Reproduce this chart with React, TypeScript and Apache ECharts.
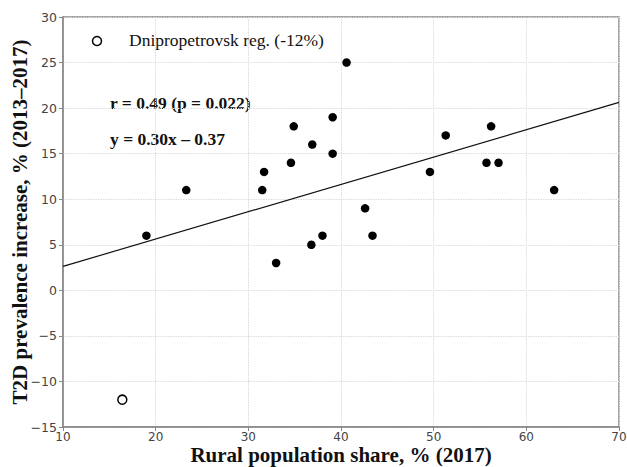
import React, { useEffect, useRef } from "react";
import * as echarts from "echarts";

const ruralShare = [19, 23.3, 31.5, 31.7, 34.6, 34.9, 36.9, 36.8, 33, 38, 39.1, 39.1, 40.6, 42.6, 43.4, 49.6, 51.3, 55.7, 56.2, 57, 63];
const prevalenceIncrease = [6, 11, 11, 13, 14, 18, 16, 5, 3, 6, 19, 15, 25, 9, 6, 13, 17, 14, 18, 14, 11];
const outlierX = [16.4];
const outlierY = [-12];
const outlierName = "Dnipropetrovsk reg. (-12%)";
const fitSlope = 0.3;
const fitIntercept = -0.37;
const fitRange = [10, 70];

export default function App() {
  const ref = useRef<HTMLDivElement>(null);
  useEffect(() => {
    if (!ref.current) return;
    const chart = echarts.init(ref.current, undefined, { renderer: "svg" });
    const serif = "Liberation Serif";
    const sans = "DejaVu Sans";
    const axisLine = { show: true, onZero: false, lineStyle: { color: "#888", width: 1.5 } };
    const splitLine = { show: true, lineStyle: { color: "#dcdcdc", type: [1.5, 1] as any, width: 1 } };
    chart.setOption({
      animation: false,
      backgroundColor: "#fff",
      grid: {
        left: 63, right: 8, top: 17, bottom: 40,
        show: true, borderColor: "#888", borderWidth: 1.5,
        containLabel: false, outerBoundsMode: "none",
      } as any,
      xAxis: {
        type: "value",
        min: 10,
        max: 70,
        interval: 10,
        name: "Rural population share, % (2017)",
        nameLocation: "middle",
        nameGap: 18,
        nameMoveOverlap: false,
        nameTextStyle: { fontFamily: serif, fontSize: 21, fontWeight: "bold", color: "#111", lineHeight: 20 },
        axisLine,
        axisTick: { show: true, length: 4, lineStyle: { color: "#888" } },
        axisLabel: { fontFamily: sans, fontSize: 12, color: "#444", margin: 3, lineHeight: 13 },
        splitLine,
      } as any,
      yAxis: {
        type: "value",
        min: -15,
        max: 30,
        interval: 5,
        name: "T2D prevalence increase, % (2013–2017)",
        nameLocation: "middle",
        nameGap: 33,
        nameMoveOverlap: false,
        nameTextStyle: { fontFamily: serif, fontSize: 21, fontWeight: "bold", color: "#111", lineHeight: 21 },
        axisLine,
        axisTick: { show: true, length: 4, lineStyle: { color: "#888" } },
        axisLabel: {
          fontFamily: sans,
          fontSize: 12.5,
          color: "#444",
          margin: 6,
          formatter: (v: number) => (v < 0 ? "\u2212" + Math.abs(v) : String(v)),
        },
        splitLine,
      } as any,
      graphic: [
        { type: "circle", shape: { cx: 97, cy: 41, r: 4.5 }, style: { fill: "#fff", stroke: "#000", lineWidth: 1.5 } },
        { type: "text", left: 129, top: 31, style: { text: outlierName, font: `17.5px "${serif}"`, fill: "#111" } },
        { type: "text", left: 110, top: 94, style: { text: "r = 0.49 (p = 0.022)", font: `bold 17.5px "${serif}"`, fill: "#111" } },
        { type: "text", left: 110, top: 130, style: { text: "y = 0.30x \u2013 0.37", font: `bold 17.5px "${serif}"`, fill: "#111" } },
      ],
      series: [
        {
          type: "line",
          data: fitRange.map((x) => [x, fitSlope * x + fitIntercept]),
          showSymbol: false,
          lineStyle: { color: "#111", width: 1.2 },
          silent: true,
          z: 1,
        },
        {
          type: "scatter",
          data: ruralShare.map((x, i) => [x, prevalenceIncrease[i]]),
          symbolSize: 8.5,
          itemStyle: { color: "#000", opacity: 1 },
          z: 3,
        },
        {
          name: outlierName,
          type: "scatter",
          data: outlierX.map((x, i) => [x, outlierY[i]]),
          symbolSize: 9,
          itemStyle: { color: "#fff", borderColor: "#000", borderWidth: 1.5, opacity: 1 },
          z: 3,
        },
      ],
    });
    return () => chart.dispose();
  }, []);
  return <div ref={ref} style={{ width: 627, height: 467, position: "absolute", left: 0, top: 0 }} />;
}
